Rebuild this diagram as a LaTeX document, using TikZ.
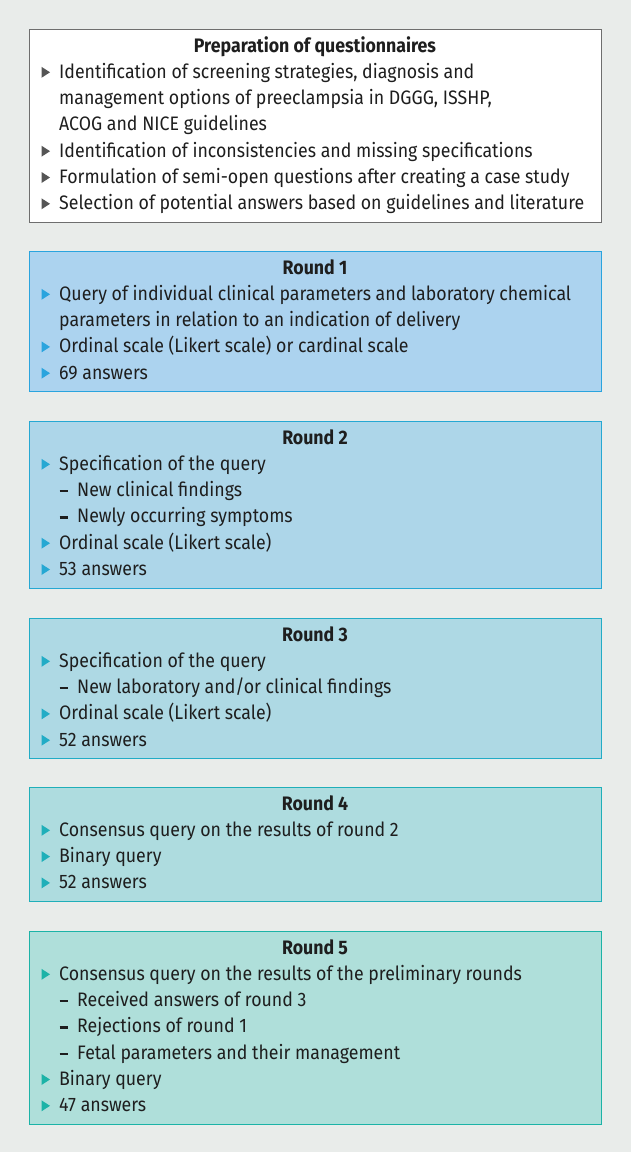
\documentclass[tikz,border=0pt]{standalone}
\usepackage{fontspec}
\setmainfont{Fira Sans}[FakeStretch=0.91]
\definecolor{bg}{HTML}{E9ECEA}
\definecolor{txtc}{HTML}{1E1E1E}
\definecolor{b0}{HTML}{6E6E6E}
\definecolor{g0}{HTML}{555555}
\definecolor{f1}{HTML}{ACD3EF}\definecolor{c1}{HTML}{2AA4DE}
\definecolor{f2}{HTML}{ADD6E9}\definecolor{c2}{HTML}{26A8D3}
\definecolor{f3}{HTML}{AED9E4}\definecolor{c3}{HTML}{22ACC6}
\definecolor{f4}{HTML}{AEDCDF}\definecolor{c4}{HTML}{1FAFB9}
\definecolor{f5}{HTML}{AFDFDA}\definecolor{c5}{HTML}{1CB3A7}
\tikzset{
  panel/.style={draw=#1, line width=1.3pt, anchor=north west, inner sep=0pt, minimum width=572pt},
  txt/.style={anchor=base west, inner sep=0pt, text=txtc, font=\fontsize{19.5}{23}\selectfont},
  ttl/.style={anchor=base, inner sep=0pt, text=txtc, font=\fontsize{19.5}{23}\selectfont\bfseries},
  dashmark/.style={txtc, line width=2.2pt},
}
\newcommand\bitem[4]{%
  \fill[#3] (41.5,#2-11.5) -- (50,#2-6) -- (41.5,#2-0.5) -- cycle;
  \node[txt] (#1) at (59,#2) {#4};}
\newcommand\sitem[3]{%
  \draw[dashmark] (59.5,#2-5.5) -- (67.5,#2-5.5);
  \node[txt] (#1) at (77,#2) {#3};}
\begin{document}
\begin{tikzpicture}[x=1pt,y=-1pt]
\fill[bg] (0,0) rectangle (631,1152);
\useasboundingbox (0,0) rectangle (631,1152);
% preparation
\node[panel=b0, fill=white, minimum height=193pt] (p0) at (29,29) {};
\node[ttl] (p0t) at (315,52) {Preparation of questionnaires};
\bitem{p0a}{78.3}{g0}{Identification of screening strategies, diagnosis and}
\node[txt] (p0a2) at (59,104.6) {management options of preeclampsia in DGGG, ISSHP,};
\node[txt] (p0a3) at (59,130.9) {ACOG and NICE guidelines};
\bitem{p0b}{157.2}{g0}{Identification of inconsistencies and missing specifications}
\bitem{p0c}{183.5}{g0}{Formulation of semi-open questions after creating a case study}
\bitem{p0d}{209.8}{g0}{Selection of potential answers based on guidelines and literature}
% round 1
\node[panel=c1, fill=f1, minimum height=140pt] (r1) at (29,251) {};
\node[ttl] (r1t) at (315,274) {Round 1};
\bitem{r1a}{300.3}{c1}{Query of individual clinical parameters and laboratory chemical}
\node[txt] (r1a2) at (59,326.6) {parameters in relation to an indication of delivery};
\bitem{r1b}{352.9}{c1}{Ordinal scale (Likert scale) or cardinal scale}
\bitem{r1c}{379.2}{c1}{69 answers}
% round 2
\node[panel=c2, fill=f2, minimum height=166.5pt] (r2) at (29,421) {};
\node[ttl] (r2t) at (315,444) {Round 2};
\bitem{r2a}{470.3}{c2}{Specification of the query}
\sitem{r2a1}{496.6}{New clinical findings}
\sitem{r2a2}{522.9}{Newly occurring symptoms}
\bitem{r2b}{549.2}{c2}{Ordinal scale (Likert scale)}
\bitem{r2c}{575.5}{c2}{53 answers}
% round 3
\node[panel=c3, fill=f3, minimum height=140pt] (r3) at (29,618) {};
\node[ttl] (r3t) at (315,641) {Round 3};
\bitem{r3a}{667.3}{c3}{Specification of the query}
\sitem{r3a1}{693.6}{New laboratory and/or clinical findings}
\bitem{r3b}{719.9}{c3}{Ordinal scale (Likert scale)}
\bitem{r3c}{746.2}{c3}{52 answers}
% round 4
\node[panel=c4, fill=f4, minimum height=114pt] (r4) at (29,787) {};
\node[ttl] (r4t) at (315,810) {Round 4};
\bitem{r4a}{836.3}{c4}{Consensus query on the results of round 2}
\bitem{r4b}{862.6}{c4}{Binary query}
\bitem{r4c}{888.9}{c4}{52 answers}
% round 5
\node[panel=c5, fill=f5, minimum height=193pt] (r5) at (29,931) {};
\node[ttl] (r5t) at (315,954) {Round 5};
\bitem{r5a}{980.3}{c5}{Consensus query on the results of the preliminary rounds}
\sitem{r5a1}{1006.6}{Received answers of round 3}
\sitem{r5a2}{1032.9}{Rejections of round 1}
\sitem{r5a3}{1059.2}{Fetal parameters and their management}
\bitem{r5b}{1085.5}{c5}{Binary query}
\bitem{r5c}{1111.8}{c5}{47 answers}
\end{tikzpicture}
\end{document}
